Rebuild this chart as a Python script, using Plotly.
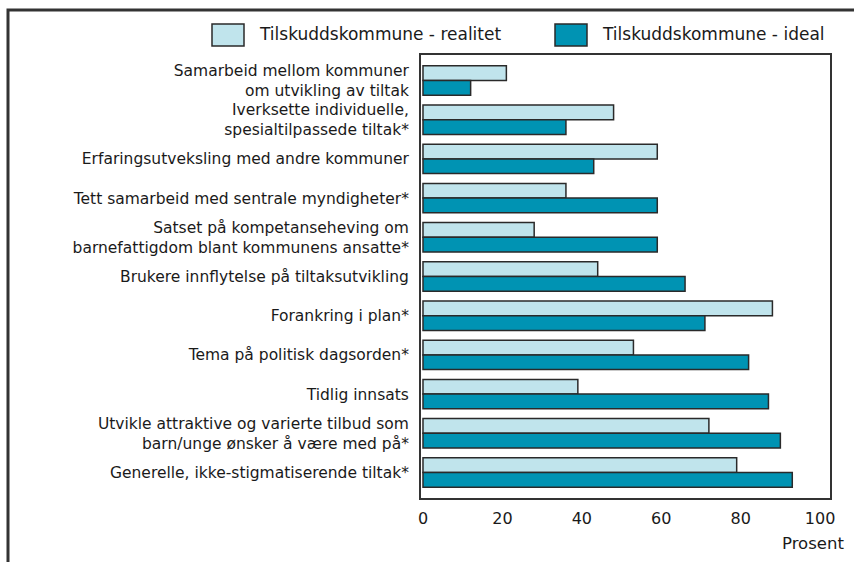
import plotly.graph_objects as go

categories = [
    "Samarbeid mellom kommuner<br>om utvikling av tiltak",
    "Iverksette individuelle,<br>spesialtilpassede tiltak*",
    "Erfaringsutveksling med andre kommuner",
    "Tett samarbeid med sentrale myndigheter*",
    "Satset på kompetanseheving om<br>barnefattigdom blant kommunens ansatte*",
    "Brukere innflytelse på tiltaksutvikling",
    "Forankring i plan*",
    "Tema på politisk dagsorden*",
    "Tidlig innsats",
    "Utvikle attraktive og varierte tilbud som<br>barn/unge ønsker å være med på*",
    "Generelle, ikke-stigmatiserende tiltak*",
]
realitet = [21, 48, 59, 36, 28, 44, 88, 53, 39, 72, 79]
ideal = [12, 36, 43, 59, 59, 66, 71, 82, 87, 90, 93]
series_names = ["Tilskuddskommune - realitet", "Tilskuddskommune - ideal"]
x_ticks = [0, 20, 40, 60, 80, 100]

c_light = "#c0e4ec"
c_dark = "#0093b3"
edge = "#2a2a2a"
txt = "#1a1a1a"
font_family = "DejaVu Sans, Open Sans, sans-serif"

fig = go.Figure()
fig.add_trace(go.Bar(y=categories, x=realitet, name=series_names[0], orientation="h",
                     marker=dict(color=c_light, line=dict(color=edge, width=1.5)),
                     showlegend=False))
fig.add_trace(go.Bar(y=categories, x=ideal, name=series_names[1], orientation="h",
                     marker=dict(color=c_dark, line=dict(color=edge, width=1.5)),
                     showlegend=False))

L, R, T, B = 421, 24, 55, 64
W, H = 854, 562
pw, ph = W - L - R, H - T - B

def px(x):
    return (x - L) / pw

def py(y):
    return (H - B - y) / ph

shapes = [
    dict(type="rect", xref="paper", yref="paper", x0=px(8), x1=px(1000), y0=py(700), y1=py(10),
         line=dict(color="#333333", width=3), fillcolor="rgba(0,0,0,0)", layer="above"),
    dict(type="rect", xref="paper", yref="paper", x0=px(212), x1=px(244), y0=py(46), y1=py(24),
         line=dict(color=edge, width=1.5), fillcolor=c_light),
    dict(type="rect", xref="paper", yref="paper", x0=px(555), x1=px(587), y0=py(46), y1=py(24),
         line=dict(color=edge, width=1.5), fillcolor=c_dark),
]
annotations = [
    dict(text=series_names[0], xref="paper", yref="paper", x=px(257), y=py(34),
         xanchor="left", yanchor="middle", showarrow=False, font=dict(size=17, color=txt, family=font_family)),
    dict(text=series_names[1], xref="paper", yref="paper", x=px(600), y=py(34),
         xanchor="left", yanchor="middle", showarrow=False, font=dict(size=17, color=txt, family=font_family)),
    dict(text="Prosent", xref="paper", yref="paper", x=px(846), y=py(543),
         xanchor="right", yanchor="middle", showarrow=False, font=dict(size=16.5, color=txt, family=font_family)),
]

fig.update_layout(
    width=W, height=H,
    margin=dict(l=L, r=R, t=T, b=B, pad=0),
    paper_bgcolor="white", plot_bgcolor="white",
    barmode="group", bargap=0.25, bargroupgap=0.0,
    font=dict(family=font_family, size=15, color=txt),
    shapes=shapes, annotations=annotations,
    xaxis=dict(range=[-0.5, 102.5], tickvals=x_ticks, ticktext=[str(v) for v in x_ticks],
               showgrid=False, zeroline=False, showline=True, linecolor="#333333", linewidth=2,
               mirror=True, ticks="", ticklabelstandoff=5, tickfont=dict(size=16, color=txt)),
    yaxis=dict(autorange=False, range=[10.65, -0.65], showgrid=False, zeroline=False,
               showline=True, linecolor="#333333", linewidth=2, mirror=True, ticks="",
               ticklabelstandoff=7, tickfont=dict(size=15.5, color=txt)),
)

fig.write_html("out.html", config={"displayModeBar": False},
               post_script="document.body.style.margin='0';document.body.style.padding='0';")
